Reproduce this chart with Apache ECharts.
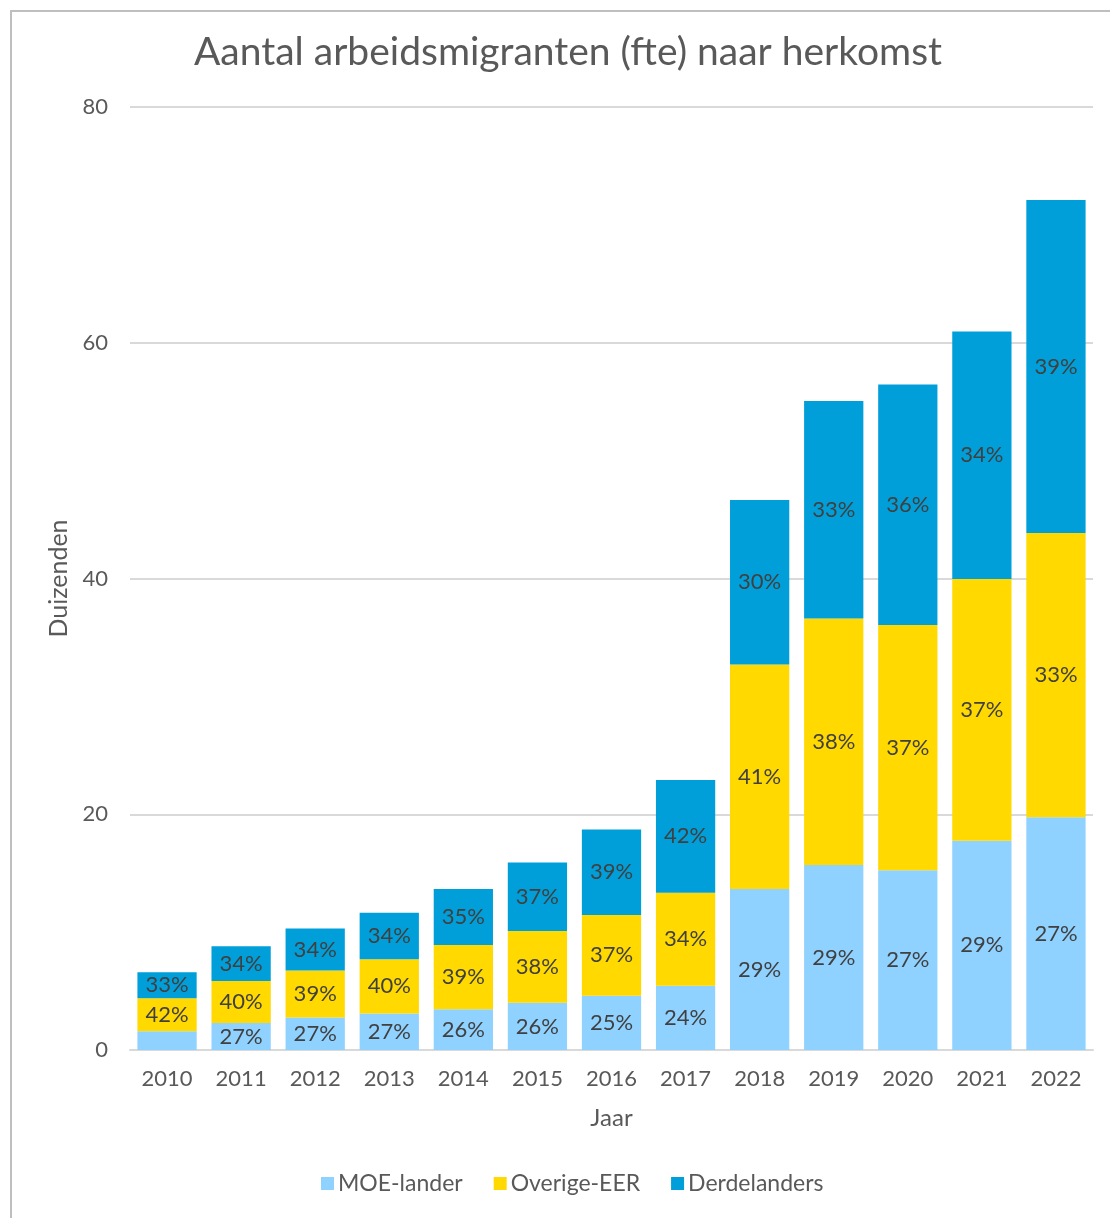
<!DOCTYPE html>
<html>
<head>
<meta charset="utf-8">
<title>Aantal arbeidsmigranten</title>
<script src="https://cdn.jsdelivr.net/npm/echarts@6/dist/echarts.min.js"></script>
<style>
  html, body { margin: 0; padding: 0; background: #fff; }
  #chart { width: 1110px; height: 1218px; }
</style>
</head>
<body>
<div id="chart"></div>
<script>
// jaren
var years = ["2010", "2011", "2012", "2013", "2014", "2015", "2016", "2017", "2018", "2019", "2020", "2021", "2022"];
var moe = [1.6, 2.3, 2.75, 3.1, 3.45, 4.0, 4.6, 5.45, 13.65, 15.7, 15.25, 17.75, 19.75];
var overigeEer = [2.8, 3.55, 4.0, 4.6, 5.45, 6.1, 6.85, 7.9, 19.05, 20.9, 20.8, 22.2, 24.1];
var derdelanders = [2.2, 2.95, 3.55, 3.95, 4.75, 5.8, 7.25, 9.55, 13.95, 18.45, 20.4, 21.0, 28.25];
// labels in de balken (aandeel)
var moePct = [null, "27%", "27%", "27%", "26%", "26%", "25%", "24%", "29%", "29%", "27%", "29%", "27%"];
var overigePct = ["42%", "40%", "39%", "40%", "39%", "38%", "37%", "34%", "41%", "38%", "37%", "37%", "33%"];
var derdePct = ["33%", "34%", "34%", "34%", "35%", "37%", "39%", "42%", "30%", "33%", "36%", "34%", "39%"];
var yTicks = [0, 20, 40, 60, 80];

var font = "Lato";
var textColor = "#595959";

function barSeries(name, data, pct, color) {
  return {
    name: name,
    type: "bar",
    stack: "totaal",
    barCategoryGap: "20%",
    data: data,
    itemStyle: { color: color },
    label: {
      show: true,
      position: "inside",
      fontFamily: font,
      fontSize: 22,
      color: "#404040",
      formatter: function (p) {
        return pct[p.dataIndex] || "";
      },
    },
  };
}

var myChart = echarts.init(document.getElementById("chart"));
var option = {
  animation: false,
  textStyle: { fontFamily: font },
  title: {
    text: "Aantal arbeidsmigranten (fte) naar herkomst",
    left: 563,
    top: 28,
    textAlign: "center",
    textStyle: { fontFamily: font, fontSize: 39, fontWeight: "normal", color: textColor },
  },
  graphic: [
    {
      type: "rect",
      shape: { x: 11, y: 11, width: 1120, height: 1230 },
      style: { fill: "none", stroke: "#BFBFBF", lineWidth: 2 },
      silent: true,
    },
  ],
  legend: {
    bottom: 18,
    left: 316,
    itemWidth: 13,
    itemHeight: 13,
    itemGap: 31,
    icon: "rect",
    textStyle: { fontFamily: font, fontSize: 23, color: textColor, padding: [0, 0, 0, -1] },
    data: ["MOE-lander", "Overige-EER", "Derdelanders"],
  },
  grid: { left: 130, right: 17, top: 107, bottom: 168 },
  xAxis: {
    type: "category",
    data: years,
    name: "Jaar",
    nameLocation: "middle",
    nameGap: 56,
    nameTextStyle: { fontFamily: font, fontSize: 24, color: textColor },
    axisLine: { lineStyle: { color: "#D9D9D9", width: 2 } },
    axisTick: { show: false },
    axisLabel: { fontFamily: font, fontSize: 22, color: textColor, margin: 18 },
  },
  yAxis: {
    type: "value",
    min: yTicks[0],
    max: yTicks[yTicks.length - 1],
    interval: 20,
    name: "Duizenden",
    nameLocation: "middle",
    nameGap: 58,
    nameTextStyle: { fontFamily: font, fontSize: 25, color: textColor },
    axisLine: { show: false },
    axisTick: { show: false },
    axisLabel: { fontFamily: font, fontSize: 22, color: textColor, margin: 22 },
    splitLine: { lineStyle: { color: "#D9D9D9", width: 2 } },
  },
  series: [
    barSeries("MOE-lander", moe, moePct, "#8FD1FF"),
    barSeries("Overige-EER", overigeEer, overigePct, "#FFD900"),
    barSeries("Derdelanders", derdelanders, derdePct, "#009FD9"),
  ],
};
myChart.setOption(option);
</script>
</body>
</html>
